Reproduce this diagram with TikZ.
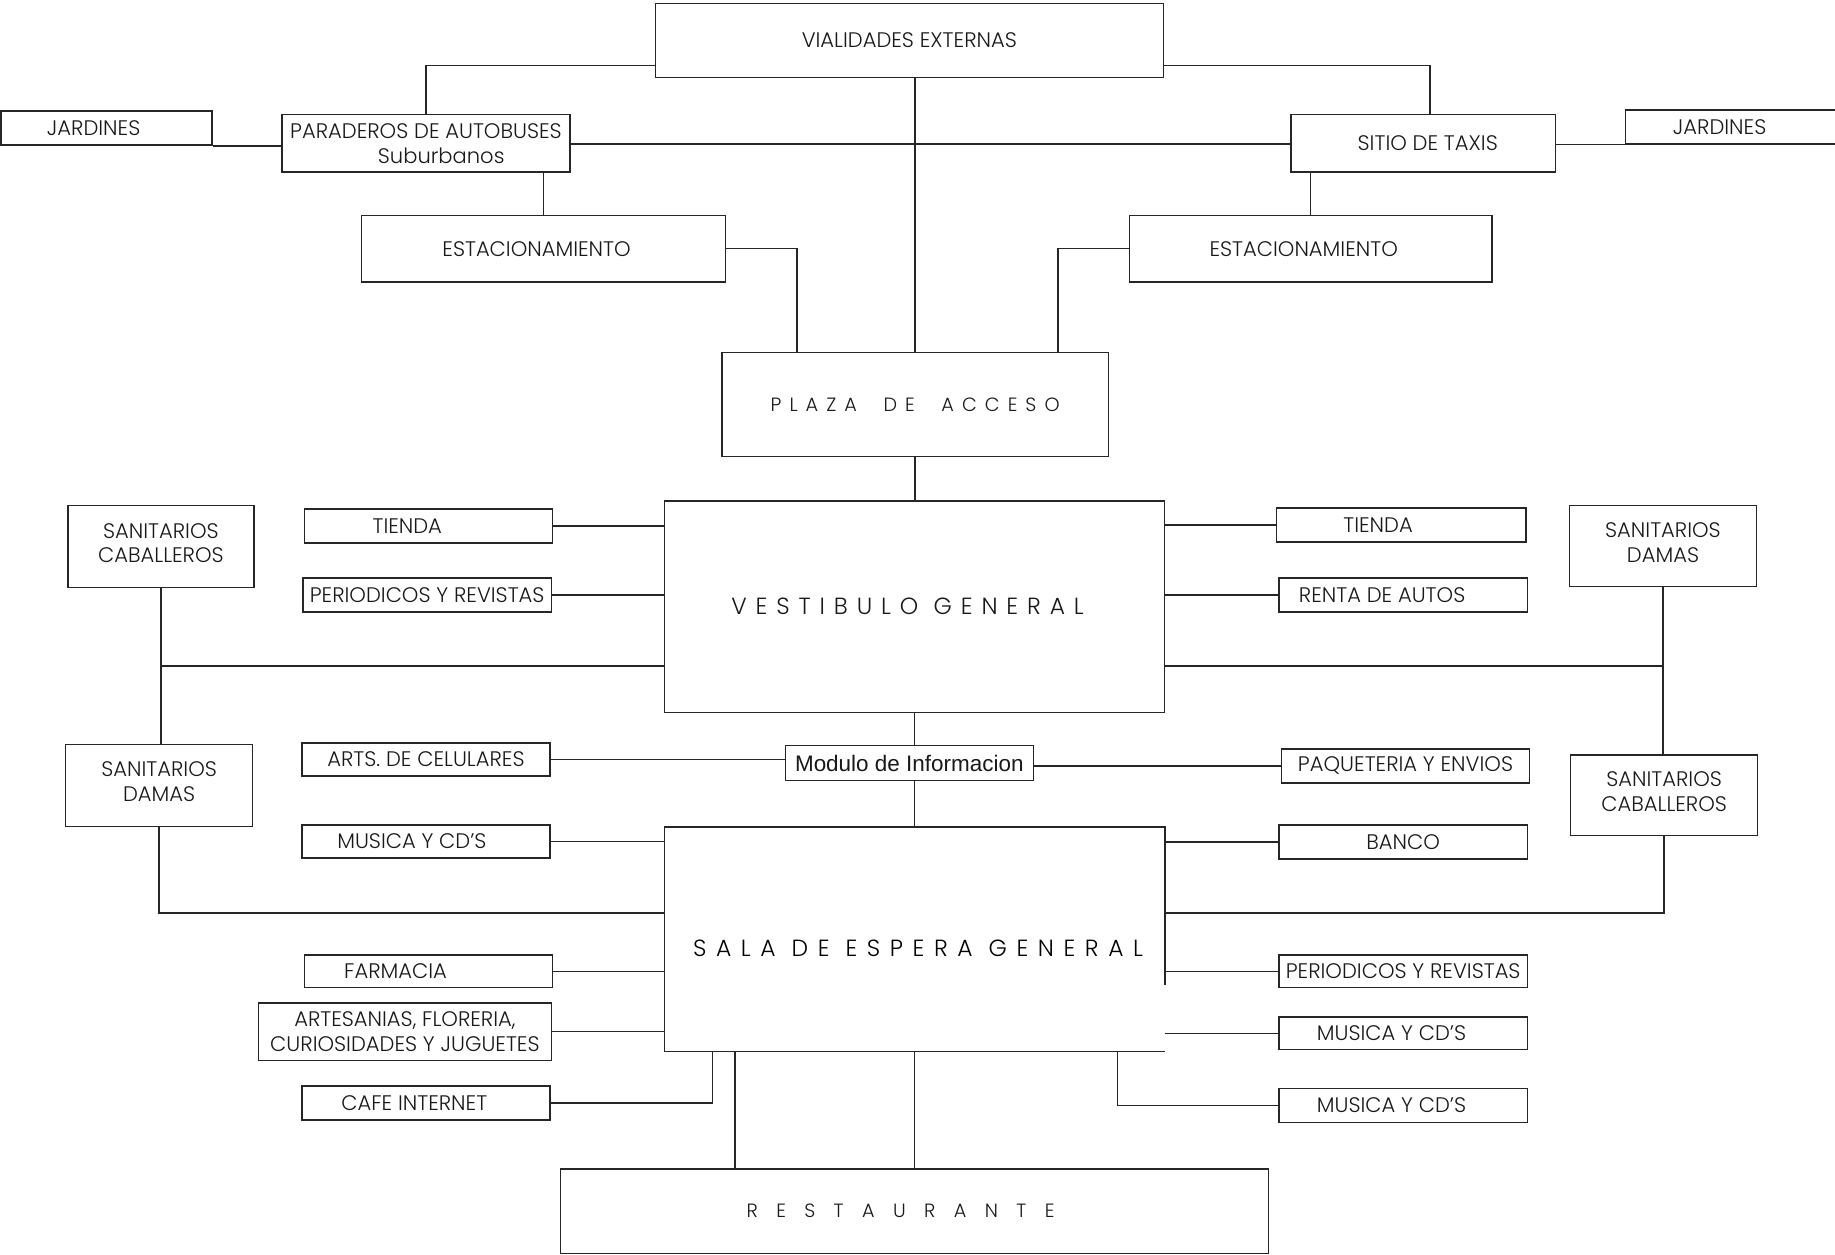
\documentclass[tikz,border=0pt]{standalone}
\usepackage{fontspec}
\setmainfont{Poppins Light}
\newfontfamily\arialfont{Liberation Sans}
\usetikzlibrary{calc}

% spaced capitals for the large hall titles
\newcommand\spacedtxt[2]{{\addfontfeatures{LetterSpace=#1}#2}}

\tikzset{
  room/.style={draw=black!85, line width=0.6pt, inner sep=0pt, align=center,
               font=\fontsize{9}{10.5}\selectfont, text=black!90},
  link/.style={draw=black!85, line width=0.6pt},
}

% \rbox[style]{name}{x1}{y1}{x2}{y2}{text}
\newcommand\rbox[7][]{%
  \pgfmathsetmacro\cx{(#3+#5)/2}\pgfmathsetmacro\cy{(#4+#6)/2}%
  \pgfmathsetmacro\ww{(#5-#3)*0.5}\pgfmathsetmacro\hh{(#6-#4)*0.5}%
  \node[room, minimum width=\ww pt, minimum height=\hh pt, #1] (#2) at (\cx,\cy) {#7};}

\begin{document}
\begin{tikzpicture}[x=0.5pt, y=-0.5pt]
\useasboundingbox[fill=white] (0,0) rectangle (1568,1072);

% access and transport
\rbox{via}{560}{3}{994}{66}{VIALIDADES EXTERNAS}
\rbox{par}{241}{98}{487}{147}{PARADEROS DE AUTOBUSES\\ \hspace*{13pt}Suburbanos}
\rbox{jarL}{1}{95}{181}{124}{\hspace*{-11pt}JARDINES}
\rbox{tax}{1103}{98}{1329}{147}{\raisebox{-1pt}{\hspace*{4pt}SITIO DE TAXIS}}
\rbox[text width=90pt, align=left]{jarR}{1389}{94}{1590}{123}{\hspace*{15pt}JARDINES}
\rbox{estL}{309}{184}{620}{241}{\hspace*{-6pt}ESTACIONAMIENTO}
\rbox{estR}{965}{184}{1275}{241}{\hspace*{-6pt}ESTACIONAMIENTO}
\rbox{plaza}{617}{301}{947}{390}{\fontsize{8.2}{10}\selectfont\spacedtxt{42}{PLAZA~~DE~~ACCESO}}

% main lobby
\rbox{vest}{568}{428}{995}{609}{\hspace*{-6pt}\fontsize{10}{12}\selectfont\spacedtxt{38}{VESTIBULO~GENERAL}}
\rbox{scL}{58}{432}{217}{502}{SANITARIOS\\CABALLEROS\\[-7.5pt]}
\rbox{tienL}{260}{435}{472}{464}{\hspace*{-18pt}TIENDA}
\rbox{perL}{259}{494}{471}{523}{PERIODICOS Y REVISTAS}
\rbox{tienR}{1091}{434}{1304}{463}{\hspace*{-20pt}TIENDA}
\rbox{renta}{1093}{494}{1305}{523}{\hspace*{-18pt}RENTA DE AUTOS}
\rbox{sdR}{1341}{432}{1501}{501}{SANITARIOS\\DAMAS\\[-7.5pt]}
\rbox{sdL}{56}{636}{216}{706}{SANITARIOS\\DAMAS\\[-7.5pt]}
\rbox{arts}{258}{635}{470}{663}{ARTS. DE CELULARES}
\rbox[font=\arialfont\fontsize{9.6}{11}\selectfont]{mod}{671}{637}{883}{667}{Modulo de Informacion}
\rbox{paq}{1095}{640}{1307}{669}{PAQUETERIA Y ENVIOS}
\rbox{scR}{1342}{645}{1502}{714}{SANITARIOS\\CABALLEROS\\[-7.5pt]}

% waiting hall
\rbox{musL}{258}{705}{470}{733}{\hspace*{-12pt}MUSICA Y CD'S}
\rbox{banco}{1093}{705}{1305}{734}{BANCO}
\node[inner sep=0pt, minimum width=213.5pt, minimum height=95.5pt] (sala) at (781.5,802.5)
  {\raisebox{-7.25pt}[0pt][0pt]{\hspace*{3pt}\fontsize{10}{12}\selectfont\spacedtxt{41}{SALA~DE~ESPERA~GENERAL}}};
\draw[link] (sala.south east |- 0,842) -- (sala.north east) -- (sala.north west)
  -- (sala.south west) -- (sala.south east);
\rbox{farm}{260}{816}{472}{844}{\hspace*{-28pt}FARMACIA}
\rbox{perR}{1093}{816}{1305}{844}{PERIODICOS Y REVISTAS}
\rbox{arte}{221}{857}{471}{906}{ARTESANIAS, FLORERIA,\\CURIOSIDADES Y JUGUETES}
\rbox{musR1}{1093}{869}{1305}{897}{\hspace*{-10pt}MUSICA Y CD'S}
\rbox{cafe}{258}{928}{470}{957}{\hspace*{-10pt}CAFE INTERNET}
\rbox{musR2}{1093}{930}{1305}{959}{\hspace*{-10pt}MUSICA Y CD'S}
\rbox{rest}{479}{999}{1084}{1071}{\hspace*{-12pt}\fontsize{8.2}{10}\selectfont\spacedtxt{96}{RESTAURANTE}}

% connectors: top level
\draw[link] (via.west |- 0,56) -| (par.north);
\draw[link] (via.east |- 0,56) -| ([xshift=3pt]tax.north);
\draw[link] (via.south -| plaza.north) -- (plaza.north);
\draw[link] (par.east |- 0,123) -- (tax.west |- 0,123);
\draw[link] (jarL.south east) -- (par.west |- jarL.south east);
\draw[link] (tax.east |- jarR.south west) -- (jarR.south west);
\draw[link] (par.south -| estL.north) -- (estL.north);
\draw[link] (tax.south -| estR.north) -- (estR.north);
\draw[link] (estL.east) -| (plaza.north -| 681,0);
\draw[link] (estR.west) -| (plaza.north -| 904,0);
\draw[link] (plaza.south) -- (vest.north -| plaza.south);

% connectors: lobby
\draw[link] (tienL.east) -- (vest.west |- tienL.east);
\draw[link] (perL.east) -- (vest.west |- perL.east);
\draw[link] (scL.south) -- (sdL.north -| scL.south);
\draw[link] (vest.west |- 0,569) -- (scL.south |- 0,569);
\draw[link] (vest.east |- tienR.west) -- (tienR.west);
\draw[link] (vest.east |- renta.west) -- (renta.west);
\draw[link] (sdR.south) -- (scR.north -| sdR.south);
\draw[link] (vest.east |- 0,569) -- (sdR.south |- 0,569);
\draw[link] (vest.south) -- (mod.north -| vest.south);
\draw[link] (arts.east) -- (mod.west |- arts.east);
\draw[link] (mod.east |- paq.west) -- (paq.west);
\draw[link] (mod.south -| vest.south) -- (sala.north -| vest.south);

% connectors: waiting hall
\draw[link] (musL.east) -- (sala.west |- musL.east);
\draw[link] (sdL.south) |- (sala.west |- 0,780);
\draw[link] (sala.east |- banco.west) -- (banco.west);
\draw[link] (sala.east |- 0,780) -| (scR.south);
\draw[link] (farm.east) -- (sala.west |- farm.east);
\draw[link] (sala.east |- perR.west) -- (perR.west);
\draw[link] (arte.east) -- (sala.west |- arte.east);
\draw[link] (sala.east |- musR1.west) -- (musR1.west);
\draw[link] (cafe.east) -| (sala.south -| 609,0);
\draw[link] (musR2.west) -| (sala.south -| 955,0);
\draw[link] (sala.south -| 628,0) -- (rest.north -| 628,0);
\draw[link] (sala.south) -- (rest.north -| sala.south);
\end{tikzpicture}
\end{document}
